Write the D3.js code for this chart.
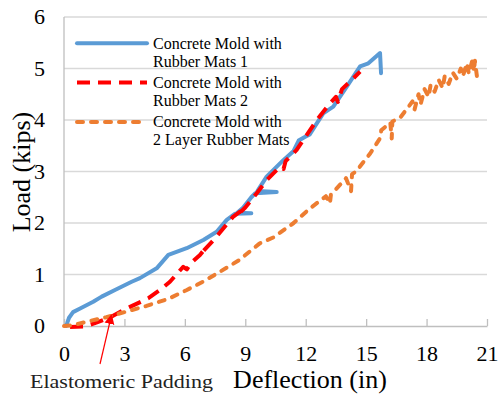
<!DOCTYPE html>
<html>
<head>
<meta charset="utf-8">
<script src="https://cdn.jsdelivr.net/npm/d3@7"></script>
<style>
  body { margin: 0; background: #fff; }
  svg { display: block; }
</style>
</head>
<body>
<svg id="chart" width="498" height="394"></svg>
<script>
// data: [deflection (in), load (kips)]
var mold1 = [[0.1,0],[0.15,0.05],[0.25,0.16],[0.45,0.27],[0.8,0.34],[1.45,0.47],[1.87,0.57],[2.53,0.7],
  [3.36,0.86],[3.77,0.93],[4.6,1.12],[5.18,1.38],[6.09,1.51],[6.92,1.67],[7.58,1.83],
  [8.08,2.06],[8.5,2.18],[9.3,2.19],[8.6,2.2],[8.9,2.3],[9.3,2.5],[9.5,2.58],[10.56,2.6],
  [9.6,2.62],[10.06,2.9],[10.89,3.22],[11.4,3.4],[11.65,3.6],[12.0,3.68],[12.2,3.72],
  [12.87,4.13],[13.37,4.26],[14.04,4.65],[14.7,5.04],[15.11,5.1],[15.69,5.3],[15.74,4.91]];

var mold2 = [[0.3,-0.02],[1.0,-0.01],[1.5,0.05],[2.2,0.15],[2.95,0.31],[4.19,0.54],[4.77,0.7],
  [5.26,0.86],[5.92,1.15],[6.1,1.1],[6.3,1.22],[6.75,1.38],[7.0,1.5],[6.9,1.45],[7.5,1.7],
  [8.39,2.12],[8.74,2.22],[8.6,2.15],[9.0,2.3],[9.57,2.58],[10.06,2.83],[10.72,3.09],
  [10.9,3.05],[11.0,3.2],[11.55,3.42],[12.55,4.0],[13.2,4.32],[13.5,4.45],[13.6,4.35],
  [13.8,4.6],[14.37,4.81],[14.7,4.94]];

var mold2Layer = [[0,0],[0.5,0.02],[1.1,0.08],[2.1,0.17],[3.1,0.28],[4.1,0.39],[5.2,0.53],
  [6.1,0.7],[6.9,0.86],[7.6,1.02],[8.7,1.28],[9.7,1.6],[10.4,1.72],[11.4,2.0],[12.2,2.28],
  [13.0,2.52],[13.2,2.38],[13.25,2.55],[14.0,2.87],[14.25,2.62],[14.3,2.95],[14.5,3.0],
  [15.2,3.35],[15.7,3.65],[15.75,3.8],[16.2,3.95],[16.27,3.64],[16.3,3.97],[16.7,4.05],
  [17.3,4.36],[17.4,4.2],[17.6,4.5],[17.7,4.3],[17.9,4.6],[18.1,4.45],[18.2,4.68],
  [18.4,4.55],[18.6,4.78],[18.8,4.62],[18.9,4.85],[19.1,4.7],[19.3,4.92],[19.5,4.8],
  [19.7,5.0],[19.8,4.85],[20.0,5.1],[20.1,4.9],[20.3,5.2],[20.35,4.95],[20.4,5.15],[20.5,4.85]];

var xTicks = [0, 3, 6, 9, 12, 15, 18, 21];
var yTicks = [0, 1, 2, 3, 4, 5, 6];
var legendNames = [
  ["Concrete Mold with", "Rubber Mats 1"],
  ["Concrete Mold with", "Rubber Mats 2"],
  ["Concrete Mold with", "2 Layer Rubber Mats"]
];

var svg = d3.select("#chart");
var font = "'Liberation Serif', 'Times New Roman', serif";

var x = d3.scaleLinear().domain([0, 21]).range([64, 487]);
var y = d3.scaleLinear().domain([0, 6]).range([326, 17]);

// gridlines
svg.append("g")
  .selectAll("line")
  .data(yTicks.slice(1))
  .enter()
  .append("line")
  .attr("x1", x(0)).attr("x2", x(21))
  .attr("y1", d => y(d)).attr("y2", d => y(d))
  .attr("stroke", "#d9d9d9")
  .attr("stroke-width", 1.3);

// y axis line + labels
svg.append("line")
  .attr("x1", x(0)).attr("x2", x(0))
  .attr("y1", y(6)).attr("y2", y(0))
  .attr("stroke", "#bfbfbf").attr("stroke-width", 1.3);

svg.append("g")
  .selectAll("text")
  .data(yTicks)
  .enter()
  .append("text")
  .attr("x", 45)
  .attr("y", d => y(d) + 7)
  .attr("text-anchor", "end")
  .style("font-family", font)
  .style("font-size", "22px")
  .text(d => d);

// x axis with inside ticks
var xAxis = svg.append("g")
  .attr("transform", "translate(0," + y(0) + ")")
  .call(d3.axisBottom(x).tickValues(xTicks).tickSizeInner(-7).tickSizeOuter(0));
xAxis.select(".domain").attr("stroke", "#bfbfbf").attr("stroke-width", 1.3);
xAxis.selectAll(".tick line").attr("stroke", "#bfbfbf").attr("stroke-width", 1.3);
xAxis.selectAll(".tick text")
  .attr("dy", null)
  .attr("y", 35)
  .attr("fill", "#000")
  .style("font-family", font)
  .style("font-size", "22px");

// series
var line = d3.line()
  .x(d => x(d[0]))
  .y(d => y(d[1]));

var styles = [
  { data: mold1, color: "#5b9bd5", dash: null, cap: "round" },
  { data: mold2, color: "#ff0000", dash: "13,8", cap: "butt" },
  { data: mold2Layer, color: "#ed7d31", dash: "6,8", cap: "round" }
];

svg.append("g")
  .selectAll("path")
  .data(styles)
  .enter()
  .append("path")
  .attr("d", d => line(d.data))
  .attr("fill", "none")
  .attr("stroke", d => d.color)
  .attr("stroke-width", 4)
  .attr("stroke-linejoin", "round")
  .attr("stroke-linecap", d => d.cap)
  .attr("stroke-dasharray", d => d.dash);

// legend
var legend = svg.selectAll(".legend")
  .data(styles)
  .enter()
  .append("g")
  .attr("class", "legend")
  .attr("transform", (d, i) => "translate(0," + (i * 39.3) + ")");

legend.append("line")
  .attr("x1", 77).attr("x2", 147)
  .attr("y1", 43.3).attr("y2", 43.3)
  .attr("stroke", d => d.color)
  .attr("stroke-width", 4)
  .attr("stroke-linecap", d => d.cap)
  .attr("stroke-dasharray", d => d.dash);

legend.append("text")
  .attr("x", 153)
  .attr("y", 48.5)
  .style("font-family", font)
  .style("font-size", "16px")
  .selectAll("tspan")
  .data((d, i) => legendNames[i])
  .enter()
  .append("tspan")
  .attr("x", 153)
  .attr("dy", (d, j) => j ? 18.3 : 0)
  .text(d => d);

// axis titles
svg.append("text")
  .attr("x", 310)
  .attr("y", 388)
  .attr("text-anchor", "middle")
  .style("font-family", font)
  .style("font-size", "26px")
  .text("Deflection (in)");

svg.append("text")
  .attr("transform", "translate(30," + 172 + ") rotate(-90)")
  .attr("text-anchor", "middle")
  .style("font-family", font)
  .style("font-size", "26px")
  .text("Load (kips)");

// annotation
svg.append("defs").append("marker")
  .attr("id", "arrow")
  .attr("viewBox", "0 0 10 10")
  .attr("refX", 9).attr("refY", 5)
  .attr("markerWidth", 10).attr("markerHeight", 12)
  .attr("markerUnits", "userSpaceOnUse")
  .attr("orient", "auto")
  .append("path")
  .attr("d", "M0,0 L10,5 L0,10 Z")
  .attr("fill", "#ff0000");

svg.append("line")
  .attr("x1", 100).attr("y1", 364)
  .attr("x2", 111.5).attr("y2", 315)
  .attr("stroke", "#ff0000")
  .attr("stroke-width", 1.2)
  .attr("marker-end", "url(#arrow)");

svg.append("text")
  .attr("x", 30)
  .attr("y", 388)
  .attr("textLength", 183)
  .attr("lengthAdjust", "spacingAndGlyphs")
  .attr("fill", "#222")
  .style("font-family", font)
  .style("font-size", "18px")
  .text("Elastomeric Padding");
</script>
</body>
</html>
